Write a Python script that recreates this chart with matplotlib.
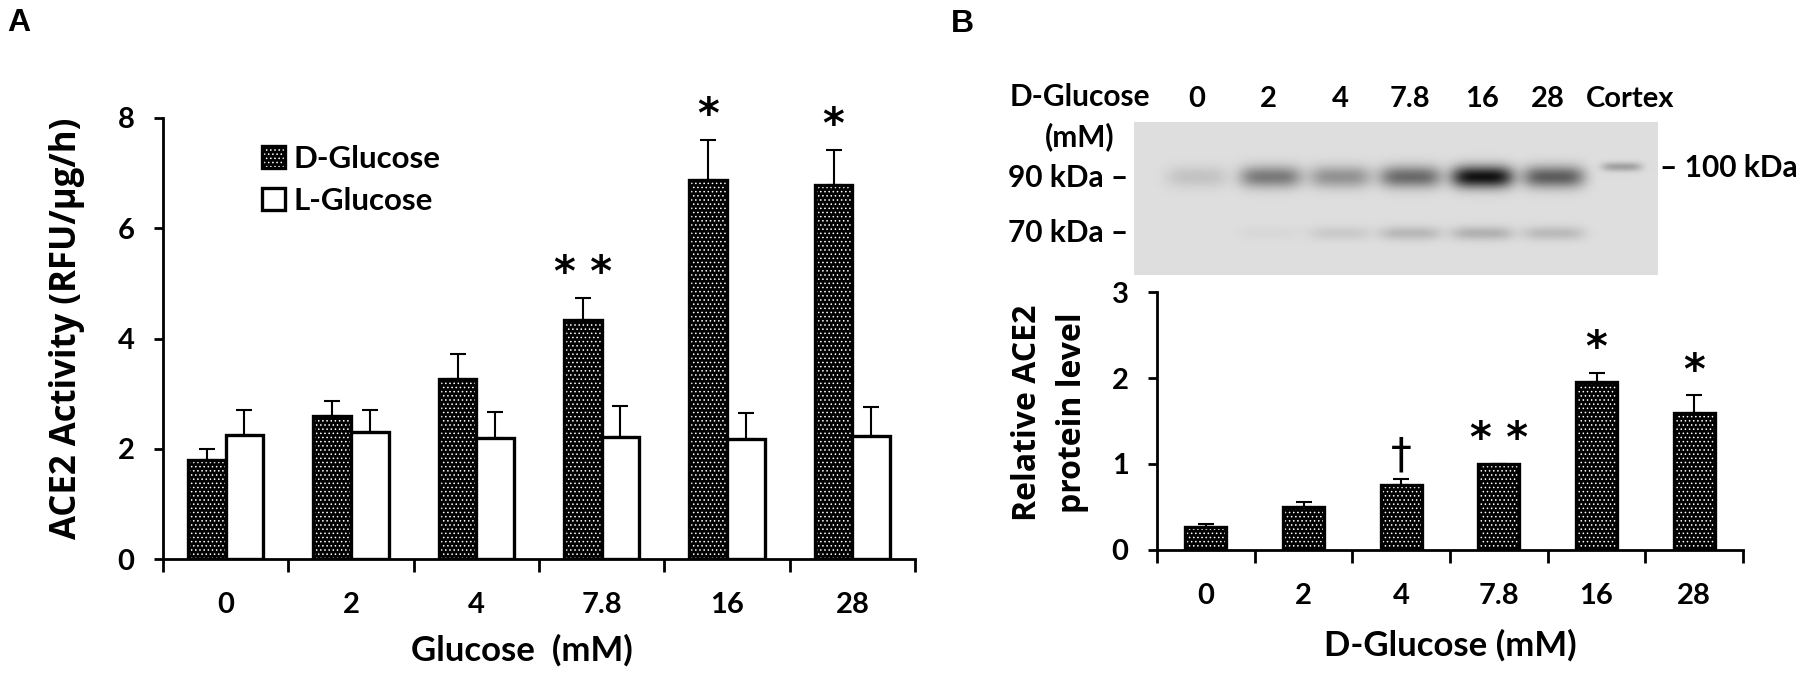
import numpy as np
import matplotlib
matplotlib.use("Agg")
import matplotlib.pyplot as plt

# ---- data ----
glucose_labels = ["0", "2", "4", "7.8", "16", "28"]

d_glucose_activity = [1.79, 2.59, 3.27, 4.33, 6.88, 6.79]
d_glucose_err = [0.20, 0.28, 0.44, 0.40, 0.72, 0.63]
l_glucose_activity = [2.25, 2.30, 2.19, 2.22, 2.17, 2.24]
l_glucose_err = [0.46, 0.40, 0.47, 0.55, 0.48, 0.51]
activity_marks = ["", "", "", "* *", "*", "*"]

protein_level = [0.27, 0.50, 0.76, 1.00, 1.955, 1.595]
protein_err = [0.03, 0.06, 0.06, 0.0, 0.105, 0.205]
protein_marks = ["", "", "\u2020", "* *", "*", "*"]

blot_lanes = ["0", "2", "4", "7.8", "16", "28", "Cortex"]
band_90_darkness = [0.12, 0.45, 0.34, 0.52, 0.92, 0.58, 0.0]
band_70_darkness = [0.0, 0.03, 0.09, 0.17, 0.20, 0.16, 0.0]
band_100_darkness = [0.0, 0.0, 0.0, 0.0, 0.0, 0.0, 0.28]

W, H = 1800, 674
plt.rcParams["font.family"] = ["Lato", "DejaVu Sans"]
plt.rcParams["font.weight"] = "bold"
plt.rcParams["hatch.linewidth"] = 0.6

fig = plt.figure(figsize=(W / 100, H / 100), dpi=100)


def fx(px):
    return px / W


def fy(py):
    return 1 - py / H


def axes_px(left, top, right, bottom):
    return fig.add_axes([fx(left), fy(bottom), fx(right) - fx(left), fy(top) - fy(bottom)])


def hatched_bars(ax, x, heights, width, err):
    fill = ax.bar(x, heights, width, color="black", edgecolor="white",
                  hatch="....", linewidth=0, zorder=2)
    outline = ax.bar(x, heights, width, facecolor="none", edgecolor="black",
                     linewidth=2.4, zorder=3)
    ax.errorbar(x, heights, yerr=[np.zeros(len(err)), err], fmt="none",
                ecolor="black", elinewidth=1.5, capsize=6, capthick=1.5, zorder=1)
    return fill, outline


def style_axes(ax, ymax, yticks):
    n = len(glucose_labels)
    ax.set_xlim(0, n)
    ax.set_ylim(0, ymax)
    for side in ("top", "right"):
        ax.spines[side].set_visible(False)
    for side in ("left", "bottom"):
        ax.spines[side].set_linewidth(2.0)
    ax.set_xticks(np.arange(n + 1))
    ax.set_xticklabels([])
    ax.set_xticks(np.arange(n) + 0.5, minor=True)
    ax.set_xticklabels(glucose_labels, minor=True, fontsize=21)
    ax.tick_params(axis="x", which="major", direction="out", length=9, width=2)
    ax.tick_params(axis="x", which="minor", length=0, pad=24)
    ax.set_yticks(yticks)
    ax.tick_params(axis="y", direction="out", length=6.5, width=2, labelsize=21, pad=14)


def add_marks(ax, xs, tops, marks, gap):
    for x, top, mark in zip(xs, tops, marks):
        if mark:
            weight = "normal" if mark == "\u2020" else "bold"
            ax.text(x, top + gap, mark, ha="center", va="bottom", fontsize=30,
                    family="DejaVu Sans", fontweight=weight)


# ---- panel A ----
axA = axes_px(163, 118, 915, 559)
xc = np.arange(len(glucose_labels)) + 0.5
bw = 0.3
d_fill, d_out = hatched_bars(axA, xc - bw / 2, d_glucose_activity, bw, d_glucose_err)
l_out = axA.bar(xc + bw / 2, l_glucose_activity, bw, facecolor="white",
                edgecolor="black", linewidth=2.4, zorder=3)
axA.errorbar(xc + bw / 2, l_glucose_activity,
             yerr=[np.zeros(len(l_glucose_err)), l_glucose_err], fmt="none",
             ecolor="black", elinewidth=1.5, capsize=6, capthick=1.5, zorder=1)
style_axes(axA, 8, [0, 2, 4, 6, 8])
add_marks(axA, xc - bw / 2, np.add(d_glucose_activity, d_glucose_err), activity_marks, 0.06)

axA.legend([(d_fill[0], d_out[0]), l_out[0]], ["D-Glucose", "L-Glucose"],
           loc="upper left", bbox_to_anchor=(fx(262), fy(145)),
           bbox_transform=fig.transFigure, frameon=False, fontsize=22.5,
           handlelength=0.72, handleheight=0.72, handletextpad=0.3,
           labelspacing=0.45, borderpad=0, borderaxespad=0)

fig.text(fx(67), fy(328), "ACE2 Activity (RFU/\u00b5g/h)", rotation=90,
         ha="center", va="center", fontsize=25, family=["Open Sans", "DejaVu Sans"])
fig.text(fx(522), fy(650), "Glucose  (mM)", ha="center", va="center", fontsize=25)
fig.text(fx(19), fy(23), "A", ha="center", va="center", fontsize=23,
         family=["Liberation Sans", "DejaVu Sans"])

# ---- panel B: blot ----
axBlot = axes_px(1134, 122, 1658, 275)
bh, bwid = 153, 524
yy, xx = np.mgrid[0:bh, 0:bwid]
lane_x = np.array([0.12, 0.26, 0.393, 0.527, 0.664, 0.80, 0.93]) * bwid
darkness = np.zeros((bh, bwid))
for cx, d90, d70, d100 in zip(lane_x, band_90_darkness, band_70_darkness, band_100_darkness):
    prof_x = np.exp(-((xx - cx) / 31.0) ** 4)
    darkness += d90 * prof_x * np.exp(-((yy - 55) / 11.0) ** 2)
    darkness += d70 * prof_x * np.exp(-((yy - 111) / 7.0) ** 2)
    darkness += d100 * np.exp(-((xx - cx) / 20.0) ** 4) * np.exp(-((yy - 45) / 4.5) ** 2)
blot = 0.87 * (1 - np.clip(darkness, 0, 0.95))
axBlot.imshow(blot, cmap="gray", vmin=0, vmax=1, aspect="auto", interpolation="bilinear")
axBlot.set_axis_off()

lane_px = [1197, 1268, 1340, 1410, 1482, 1548, 1630]
for px, lab in zip(lane_px, blot_lanes):
    fig.text(fx(px), fy(99), lab, ha="center", va="center", fontsize=21)
fig.text(fx(1080), fy(97), "D-Glucose", ha="center", va="center", fontsize=21.5)
fig.text(fx(1080), fy(137), "(mM)", ha="center", va="center", fontsize=21.5)
fig.text(fx(1128), fy(178), "90 kDa \u2013", ha="right", va="center", fontsize=21.5)
fig.text(fx(1128), fy(233), "70 kDa \u2013", ha="right", va="center", fontsize=21.5)
fig.text(fx(1660), fy(168), "\u2013 100 kDa", ha="left", va="center", fontsize=21.5)
fig.text(fx(962), fy(24), "B", ha="center", va="center", fontsize=23,
         family=["Liberation Sans", "DejaVu Sans"])

# ---- panel B: bars ----
axB = axes_px(1157, 292, 1743, 550)
hatched_bars(axB, xc, protein_level, 0.42, protein_err)
style_axes(axB, 3, [0, 1, 2, 3])
add_marks(axB, xc, np.add(protein_level, protein_err), protein_marks, 0.03)

fig.text(fx(1050), fy(413), "Relative ACE2\nprotein level", rotation=90,
         ha="center", va="center", fontsize=23, linespacing=1.45,
         family=["Open Sans", "DejaVu Sans"])
fig.text(fx(1450), fy(645), "D-Glucose (mM)", ha="center", va="center", fontsize=25)

fig.savefig("out.png", dpi=100)
